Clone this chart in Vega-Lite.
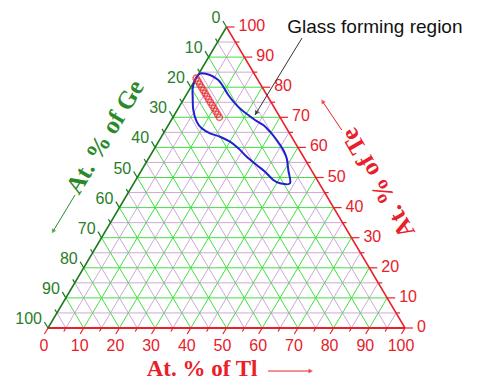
{
  "$schema": "https://vega.github.io/schema/vega-lite/v6.json",
  "width": 357,
  "height": 301,
  "autosize": "none",
  "padding": {"left": 48, "top": 27, "right": 74, "bottom": 56},
  "background": "white",
  "config": {"view": {"stroke": null}},
  "datasets": {
    "one": [{}],
    "grid": [
      {"kind": "minor", "x": 2.5, "y": 5, "x2": 97.5, "y2": 5},
      {"kind": "minor", "x": 7.5, "y": 15, "x2": 92.5, "y2": 15},
      {"kind": "minor", "x": 12.5, "y": 25, "x2": 87.5, "y2": 25},
      {"kind": "minor", "x": 17.5, "y": 35, "x2": 82.5, "y2": 35},
      {"kind": "minor", "x": 22.5, "y": 45, "x2": 77.5, "y2": 45},
      {"kind": "minor", "x": 27.5, "y": 55, "x2": 72.5, "y2": 55},
      {"kind": "minor", "x": 32.5, "y": 65, "x2": 67.5, "y2": 65},
      {"kind": "minor", "x": 37.5, "y": 75, "x2": 62.5, "y2": 75},
      {"kind": "minor", "x": 42.5, "y": 85, "x2": 57.5, "y2": 85},
      {"kind": "minor", "x": 47.5, "y": 95, "x2": 52.5, "y2": 95},
      {"kind": "minor", "x": 5, "y": 0, "x2": 52.5, "y2": 95},
      {"kind": "minor", "x": 15, "y": 0, "x2": 57.5, "y2": 85},
      {"kind": "minor", "x": 25, "y": 0, "x2": 62.5, "y2": 75},
      {"kind": "minor", "x": 35, "y": 0, "x2": 67.5, "y2": 65},
      {"kind": "minor", "x": 45, "y": 0, "x2": 72.5, "y2": 55},
      {"kind": "minor", "x": 55, "y": 0, "x2": 77.5, "y2": 45},
      {"kind": "minor", "x": 65, "y": 0, "x2": 82.5, "y2": 35},
      {"kind": "minor", "x": 75, "y": 0, "x2": 87.5, "y2": 25},
      {"kind": "minor", "x": 85, "y": 0, "x2": 92.5, "y2": 15},
      {"kind": "minor", "x": 95, "y": 0, "x2": 97.5, "y2": 5},
      {"kind": "minor", "x": 95, "y": 0, "x2": 47.5, "y2": 95},
      {"kind": "minor", "x": 85, "y": 0, "x2": 42.5, "y2": 85},
      {"kind": "minor", "x": 75, "y": 0, "x2": 37.5, "y2": 75},
      {"kind": "minor", "x": 65, "y": 0, "x2": 32.5, "y2": 65},
      {"kind": "minor", "x": 55, "y": 0, "x2": 27.5, "y2": 55},
      {"kind": "minor", "x": 45, "y": 0, "x2": 22.5, "y2": 45},
      {"kind": "minor", "x": 35, "y": 0, "x2": 17.5, "y2": 35},
      {"kind": "minor", "x": 25, "y": 0, "x2": 12.5, "y2": 25},
      {"kind": "minor", "x": 15, "y": 0, "x2": 7.5, "y2": 15},
      {"kind": "minor", "x": 5, "y": 0, "x2": 2.5, "y2": 5},
      {"kind": "major", "x": 5, "y": 10, "x2": 95, "y2": 10},
      {"kind": "major", "x": 10, "y": 20, "x2": 90, "y2": 20},
      {"kind": "major", "x": 15, "y": 30, "x2": 85, "y2": 30},
      {"kind": "major", "x": 20, "y": 40, "x2": 80, "y2": 40},
      {"kind": "major", "x": 25, "y": 50, "x2": 75, "y2": 50},
      {"kind": "major", "x": 30, "y": 60, "x2": 70, "y2": 60},
      {"kind": "major", "x": 35, "y": 70, "x2": 65, "y2": 70},
      {"kind": "major", "x": 40, "y": 80, "x2": 60, "y2": 80},
      {"kind": "major", "x": 45, "y": 90, "x2": 55, "y2": 90},
      {"kind": "major", "x": 10, "y": 0, "x2": 55, "y2": 90},
      {"kind": "major", "x": 20, "y": 0, "x2": 60, "y2": 80},
      {"kind": "major", "x": 30, "y": 0, "x2": 65, "y2": 70},
      {"kind": "major", "x": 40, "y": 0, "x2": 70, "y2": 60},
      {"kind": "major", "x": 50, "y": 0, "x2": 75, "y2": 50},
      {"kind": "major", "x": 60, "y": 0, "x2": 80, "y2": 40},
      {"kind": "major", "x": 70, "y": 0, "x2": 85, "y2": 30},
      {"kind": "major", "x": 80, "y": 0, "x2": 90, "y2": 20},
      {"kind": "major", "x": 90, "y": 0, "x2": 95, "y2": 10},
      {"kind": "major", "x": 90, "y": 0, "x2": 45, "y2": 90},
      {"kind": "major", "x": 80, "y": 0, "x2": 40, "y2": 80},
      {"kind": "major", "x": 70, "y": 0, "x2": 35, "y2": 70},
      {"kind": "major", "x": 60, "y": 0, "x2": 30, "y2": 60},
      {"kind": "major", "x": 50, "y": 0, "x2": 25, "y2": 50},
      {"kind": "major", "x": 40, "y": 0, "x2": 20, "y2": 40},
      {"kind": "major", "x": 30, "y": 0, "x2": 15, "y2": 30},
      {"kind": "major", "x": 20, "y": 0, "x2": 10, "y2": 20},
      {"kind": "major", "x": 10, "y": 0, "x2": 5, "y2": 10}
    ],
    "tlTicks": [
      {"k": 0, "x": 0, "y": 0, "x2": -1, "y2": -2},
      {"k": 5, "x": 5, "y": 0, "x2": 4.43, "y2": -1.14},
      {"k": 10, "x": 10, "y": 0, "x2": 9, "y2": -2},
      {"k": 15, "x": 15, "y": 0, "x2": 14.43, "y2": -1.14},
      {"k": 20, "x": 20, "y": 0, "x2": 19, "y2": -2},
      {"k": 25, "x": 25, "y": 0, "x2": 24.43, "y2": -1.14},
      {"k": 30, "x": 30, "y": 0, "x2": 29, "y2": -2},
      {"k": 35, "x": 35, "y": 0, "x2": 34.43, "y2": -1.14},
      {"k": 40, "x": 40, "y": 0, "x2": 39, "y2": -2},
      {"k": 45, "x": 45, "y": 0, "x2": 44.43, "y2": -1.14},
      {"k": 50, "x": 50, "y": 0, "x2": 49, "y2": -2},
      {"k": 55, "x": 55, "y": 0, "x2": 54.43, "y2": -1.14},
      {"k": 60, "x": 60, "y": 0, "x2": 59, "y2": -2},
      {"k": 65, "x": 65, "y": 0, "x2": 64.43, "y2": -1.14},
      {"k": 70, "x": 70, "y": 0, "x2": 69, "y2": -2},
      {"k": 75, "x": 75, "y": 0, "x2": 74.43, "y2": -1.14},
      {"k": 80, "x": 80, "y": 0, "x2": 79, "y2": -2},
      {"k": 85, "x": 85, "y": 0, "x2": 84.43, "y2": -1.14},
      {"k": 90, "x": 90, "y": 0, "x2": 89, "y2": -2},
      {"k": 95, "x": 95, "y": 0, "x2": 94.43, "y2": -1.14},
      {"k": 100, "x": 100, "y": 0, "x2": 99, "y2": -2}
    ],
    "teTicks": [
      {"k": 0, "x": 100, "y": 0, "x2": 102.24, "y2": 0},
      {"k": 5, "x": 97.5, "y": 5, "x2": 98.62, "y2": 5},
      {"k": 10, "x": 95, "y": 10, "x2": 97.24, "y2": 10},
      {"k": 15, "x": 92.5, "y": 15, "x2": 93.62, "y2": 15},
      {"k": 20, "x": 90, "y": 20, "x2": 92.24, "y2": 20},
      {"k": 25, "x": 87.5, "y": 25, "x2": 88.62, "y2": 25},
      {"k": 30, "x": 85, "y": 30, "x2": 87.24, "y2": 30},
      {"k": 35, "x": 82.5, "y": 35, "x2": 83.62, "y2": 35},
      {"k": 40, "x": 80, "y": 40, "x2": 82.24, "y2": 40},
      {"k": 45, "x": 77.5, "y": 45, "x2": 78.62, "y2": 45},
      {"k": 50, "x": 75, "y": 50, "x2": 77.24, "y2": 50},
      {"k": 55, "x": 72.5, "y": 55, "x2": 73.62, "y2": 55},
      {"k": 60, "x": 70, "y": 60, "x2": 72.24, "y2": 60},
      {"k": 65, "x": 67.5, "y": 65, "x2": 68.62, "y2": 65},
      {"k": 70, "x": 65, "y": 70, "x2": 67.24, "y2": 70},
      {"k": 75, "x": 62.5, "y": 75, "x2": 63.62, "y2": 75},
      {"k": 80, "x": 60, "y": 80, "x2": 62.24, "y2": 80},
      {"k": 85, "x": 57.5, "y": 85, "x2": 58.62, "y2": 85},
      {"k": 90, "x": 55, "y": 90, "x2": 57.24, "y2": 90},
      {"k": 95, "x": 52.5, "y": 95, "x2": 53.62, "y2": 95},
      {"k": 100, "x": 50, "y": 100, "x2": 52.24, "y2": 100}
    ],
    "geTicks": [
      {"k": 0, "x": 50, "y": 100, "x2": 49, "y2": 102},
      {"k": 5, "x": 47.5, "y": 95, "x2": 46.93, "y2": 96.14},
      {"k": 10, "x": 45, "y": 90, "x2": 44, "y2": 92},
      {"k": 15, "x": 42.5, "y": 85, "x2": 41.93, "y2": 86.14},
      {"k": 20, "x": 40, "y": 80, "x2": 39, "y2": 82},
      {"k": 25, "x": 37.5, "y": 75, "x2": 36.93, "y2": 76.14},
      {"k": 30, "x": 35, "y": 70, "x2": 34, "y2": 72},
      {"k": 35, "x": 32.5, "y": 65, "x2": 31.93, "y2": 66.14},
      {"k": 40, "x": 30, "y": 60, "x2": 29, "y2": 62},
      {"k": 45, "x": 27.5, "y": 55, "x2": 26.93, "y2": 56.14},
      {"k": 50, "x": 25, "y": 50, "x2": 24, "y2": 52},
      {"k": 55, "x": 22.5, "y": 45, "x2": 21.93, "y2": 46.14},
      {"k": 60, "x": 20, "y": 40, "x2": 19, "y2": 42},
      {"k": 65, "x": 17.5, "y": 35, "x2": 16.93, "y2": 36.14},
      {"k": 70, "x": 15, "y": 30, "x2": 14, "y2": 32},
      {"k": 75, "x": 12.5, "y": 25, "x2": 11.93, "y2": 26.14},
      {"k": 80, "x": 10, "y": 20, "x2": 9, "y2": 22},
      {"k": 85, "x": 7.5, "y": 15, "x2": 6.93, "y2": 16.14},
      {"k": 90, "x": 5, "y": 10, "x2": 4, "y2": 12},
      {"k": 95, "x": 2.5, "y": 5, "x2": 1.93, "y2": 6.14},
      {"k": 100, "x": 0, "y": 0, "x2": -1, "y2": 2}
    ],
    "region": [
      {"i": 1, "x": 43.05, "y": 84.62},
      {"i": 2, "x": 45.38, "y": 84.05},
      {"i": 3, "x": 47.7, "y": 82.39},
      {"i": 4, "x": 49.1, "y": 80.17},
      {"i": 5, "x": 50.5, "y": 77.41},
      {"i": 6, "x": 52.38, "y": 74.65},
      {"i": 7, "x": 54.26, "y": 72.43},
      {"i": 8, "x": 56.11, "y": 70.76},
      {"i": 9, "x": 57.98, "y": 69.1},
      {"i": 10, "x": 60.31, "y": 67.44},
      {"i": 11, "x": 62.18, "y": 65.22},
      {"i": 12, "x": 64.06, "y": 62.46},
      {"i": 13, "x": 65.91, "y": 59.14},
      {"i": 14, "x": 66.86, "y": 56.38},
      {"i": 15, "x": 67.31, "y": 52.49},
      {"i": 16, "x": 67.79, "y": 48.07},
      {"i": 17, "x": 64.99, "y": 48.07},
      {"i": 18, "x": 63.11, "y": 49.17},
      {"i": 19, "x": 60.78, "y": 51.93},
      {"i": 20, "x": 58.46, "y": 54.15},
      {"i": 21, "x": 55.66, "y": 56.91},
      {"i": 22, "x": 53.31, "y": 59.7},
      {"i": 23, "x": 50.98, "y": 61.89},
      {"i": 24, "x": 48.18, "y": 63.55},
      {"i": 25, "x": 45.38, "y": 64.68},
      {"i": 26, "x": 43.05, "y": 66.35},
      {"i": 27, "x": 41.65, "y": 68.54},
      {"i": 28, "x": 40.7, "y": 72.43},
      {"i": 29, "x": 40.53, "y": 76.84},
      {"i": 30, "x": 40.53, "y": 79.63},
      {"i": 31, "x": 41.18, "y": 82.39},
      {"i": 32, "x": 42.1, "y": 84.05}
    ],
    "samples": [
      {"Tl": 0, "Te": 83, "Ge": 17, "x": 41.5, "y": 83},
      {"Tl": 1, "Te": 82, "Ge": 17, "x": 42, "y": 82},
      {"Tl": 2, "Te": 81, "Ge": 17, "x": 42.5, "y": 81},
      {"Tl": 3, "Te": 80, "Ge": 17, "x": 43, "y": 80},
      {"Tl": 4, "Te": 79, "Ge": 17, "x": 43.5, "y": 79},
      {"Tl": 5, "Te": 78, "Ge": 17, "x": 44, "y": 78},
      {"Tl": 6, "Te": 77, "Ge": 17, "x": 44.5, "y": 77},
      {"Tl": 7, "Te": 76, "Ge": 17, "x": 45, "y": 76},
      {"Tl": 8, "Te": 75, "Ge": 17, "x": 45.5, "y": 75},
      {"Tl": 9, "Te": 74, "Ge": 17, "x": 46, "y": 74},
      {"Tl": 10, "Te": 73, "Ge": 17, "x": 46.5, "y": 73},
      {"Tl": 11, "Te": 72, "Ge": 17, "x": 47, "y": 72},
      {"Tl": 12, "Te": 71, "Ge": 17, "x": 47.5, "y": 71},
      {"Tl": 13, "Te": 70, "Ge": 17, "x": 48, "y": 70}
    ]
  },
  "layer": [
    {
      "data": {"name": "grid"},
      "mark": {"type": "rule", "strokeWidth": 1},
      "encoding": {
        "x": {"field": "x", "type": "quantitative", "scale": {"domain": [0, 100], "nice": false, "zero": false}, "axis": null},
        "y": {"field": "y", "type": "quantitative", "scale": {"domain": [0, 100], "nice": false, "zero": false}, "axis": null},
        "x2": {"field": "x2"},
        "y2": {"field": "y2"},
        "color": {"field": "kind", "type": "nominal", "scale": {"domain": ["minor", "major"], "range": ["#cfa8d8", "#45de45"]}, "legend": null}
      }
    },
    {
      "data": {"name": "one"},
      "mark": {"type": "rule", "color": "#e8202a", "strokeWidth": 2},
      "encoding": {"x": {"datum": 0, "type": "quantitative"}, "y": {"datum": 0, "type": "quantitative"}, "x2": {"datum": 100}, "y2": {"datum": 0}}
    },
    {
      "data": {"name": "one"},
      "mark": {"type": "rule", "color": "#e8202a", "strokeWidth": 1.5},
      "encoding": {"x": {"datum": 100, "type": "quantitative"}, "y": {"datum": 0, "type": "quantitative"}, "x2": {"datum": 50}, "y2": {"datum": 100}}
    },
    {
      "data": {"name": "one"},
      "mark": {"type": "rule", "color": "#1a7a1a", "strokeWidth": 1.5},
      "encoding": {"x": {"datum": 0, "type": "quantitative"}, "y": {"datum": 0, "type": "quantitative"}, "x2": {"datum": 50}, "y2": {"datum": 100}}
    },
    {
      "data": {"name": "tlTicks"},
      "mark": {"type": "rule", "color": "#e8202a", "strokeWidth": 1.2},
      "encoding": {"x": {"field": "x", "type": "quantitative"}, "y": {"field": "y", "type": "quantitative"}, "x2": {"field": "x2"}, "y2": {"field": "y2"}}
    },
    {
      "data": {"name": "teTicks"},
      "mark": {"type": "rule", "color": "#e8202a", "strokeWidth": 1.2},
      "encoding": {"x": {"field": "x", "type": "quantitative"}, "y": {"field": "y", "type": "quantitative"}, "x2": {"field": "x2"}, "y2": {"field": "y2"}}
    },
    {
      "data": {"name": "geTicks"},
      "mark": {"type": "rule", "color": "#1a7a1a", "strokeWidth": 1.2},
      "encoding": {"x": {"field": "x", "type": "quantitative"}, "y": {"field": "y", "type": "quantitative"}, "x2": {"field": "x2"}, "y2": {"field": "y2"}}
    },
    {
      "data": {"name": "tlTicks"},
      "transform": [{"filter": "datum.k % 10 == 0"}],
      "mark": {"type": "text", "color": "#e8202a", "font": "Liberation Sans", "fontSize": 16, "align": "center", "baseline": "middle", "dx": -4, "dy": 18},
      "encoding": {"x": {"field": "x", "type": "quantitative"}, "y": {"field": "y", "type": "quantitative"}, "text": {"field": "k"}}
    },
    {
      "data": {"name": "teTicks"},
      "transform": [{"filter": "datum.k % 10 == 0"}],
      "mark": {"type": "text", "color": "#e8202a", "font": "Liberation Sans", "fontSize": 16, "align": "left", "baseline": "middle", "dx": 12, "dy": -1},
      "encoding": {"x": {"field": "x", "type": "quantitative"}, "y": {"field": "y", "type": "quantitative"}, "text": {"field": "k"}}
    },
    {
      "data": {"name": "geTicks"},
      "transform": [{"filter": "datum.k % 10 == 0"}],
      "mark": {"type": "text", "color": "#2a7d2a", "font": "Liberation Sans", "fontSize": 16, "align": "right", "baseline": "middle", "dx": -6, "dy": -9},
      "encoding": {"x": {"field": "x", "type": "quantitative"}, "y": {"field": "y", "type": "quantitative"}, "text": {"field": "k"}}
    },
    {
      "data": {"name": "region"},
      "mark": {"type": "line", "color": "#2020d0", "strokeWidth": 2, "interpolate": "cardinal-closed"},
      "encoding": {"x": {"field": "x", "type": "quantitative"}, "y": {"field": "y", "type": "quantitative"}, "order": {"field": "i"}}
    },
    {
      "data": {"name": "samples"},
      "mark": {"type": "point", "shape": "circle", "filled": false, "color": "#e8202a", "size": 38, "strokeWidth": 1.5},
      "encoding": {"x": {"field": "x", "type": "quantitative"}, "y": {"field": "y", "type": "quantitative"}}
    },
    {
      "data": {"name": "one"},
      "mark": {"type": "text", "text": "Glass forming region", "font": "Liberation Sans", "fontSize": 19, "align": "left", "baseline": "middle", "color": "#111111"},
      "encoding": {"x": {"datum": 67.0, "type": "quantitative"}, "y": {"datum": 100.1, "type": "quantitative"}}
    },
    {
      "data": {"name": "one"},
      "mark": {"type": "rule", "color": "#333333", "strokeWidth": 1},
      "encoding": {"x": {"datum": 71.15, "type": "quantitative"}, "y": {"datum": 96.35, "type": "quantitative"}, "x2": {"datum": 57.98}, "y2": {"datum": 70.76}}
    },
    {
      "data": {"name": "one"},
      "mark": {"type": "point", "shape": "triangle-up", "filled": true, "color": "#222222", "size": 30, "angle": 211},
      "encoding": {"x": {"datum": 58.3, "type": "quantitative"}, "y": {"datum": 71.4, "type": "quantitative"}}
    },
    {
      "data": {"name": "one"},
      "mark": {"type": "text", "text": "At. % of Tl", "font": "Liberation Serif", "fontWeight": "bold", "fontSize": 23, "align": "center", "baseline": "middle", "color": "#e8202a"},
      "encoding": {"x": {"datum": 43.14, "type": "quantitative"}, "y": {"datum": -13.6, "type": "quantitative"}}
    },
    {
      "data": {"name": "one"},
      "mark": {"type": "rule", "color": "#e8202a", "strokeWidth": 1},
      "encoding": {"x": {"datum": 61.62, "type": "quantitative"}, "y": {"datum": -14.3, "type": "quantitative"}, "x2": {"datum": 73.5}, "y2": {"datum": -14.3}}
    },
    {
      "data": {"name": "one"},
      "mark": {"type": "point", "shape": "triangle-up", "filled": true, "color": "#e8202a", "size": 25, "angle": 90},
      "encoding": {"x": {"datum": 73.6, "type": "quantitative"}, "y": {"datum": -14.3, "type": "quantitative"}}
    },
    {
      "data": {"name": "one"},
      "mark": {"type": "text", "text": "At. % of Ge", "font": "Liberation Serif", "fontWeight": "bold", "fontSize": 25, "align": "center", "baseline": "middle", "color": "#2a8a2a", "angle": 301},
      "encoding": {"x": {"datum": 15.97, "type": "quantitative"}, "y": {"datum": 63.46, "type": "quantitative"}}
    },
    {
      "data": {"name": "one"},
      "mark": {"type": "rule", "color": "#2a8a2a", "strokeWidth": 1},
      "encoding": {"x": {"datum": 7.56, "type": "quantitative"}, "y": {"datum": 44.19, "type": "quantitative"}, "x2": {"datum": 1.5}, "y2": {"datum": 32.3}}
    },
    {
      "data": {"name": "one"},
      "mark": {"type": "point", "shape": "triangle-up", "filled": true, "color": "#2a8a2a", "size": 25, "angle": 211},
      "encoding": {"x": {"datum": 1.4, "type": "quantitative"}, "y": {"datum": 32.1, "type": "quantitative"}}
    },
    {
      "data": {"name": "one"},
      "mark": {"type": "text", "text": "At. % of Te", "font": "Liberation Serif", "fontWeight": "bold", "fontSize": 25, "align": "center", "baseline": "middle", "color": "#e8202a", "angle": 240},
      "encoding": {"x": {"datum": 92.44, "type": "quantitative"}, "y": {"datum": 48.17, "type": "quantitative"}}
    },
    {
      "data": {"name": "one"},
      "mark": {"type": "rule", "color": "#e8202a", "strokeWidth": 1},
      "encoding": {"x": {"datum": 82.27, "type": "quantitative"}, "y": {"datum": 65.78, "type": "quantitative"}, "x2": {"datum": 77.0}, "y2": {"datum": 75.1}}
    },
    {
      "data": {"name": "one"},
      "mark": {"type": "point", "shape": "triangle-up", "filled": true, "color": "#e8202a", "size": 25, "angle": 326},
      "encoding": {"x": {"datum": 76.9, "type": "quantitative"}, "y": {"datum": 75.3, "type": "quantitative"}}
    }
  ]
}
